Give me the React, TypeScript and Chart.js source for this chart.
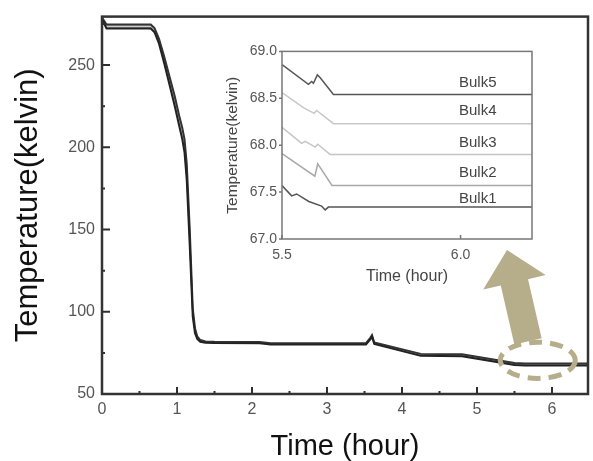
import React, { useEffect, useRef } from 'react';
import { Chart, registerables } from 'chart.js';

Chart.register(...registerables);

const FONT = "'Liberation Sans', Arial, Helvetica, sans-serif";

// ---------- main chart data ----------
const mainTime = [0, 0.06, 0.65, 0.7, 0.76, 0.83, 0.9, 0.97, 1.03, 1.07, 1.1, 1.13, 1.17, 1.21, 1.24, 1.27, 1.31, 1.38, 1.5, 2.1, 2.25, 3.52, 3.58, 3.6, 3.63, 4.25, 4.8, 5.5, 5.64, 6.48];
const mainBulk5 = [279, 274.7, 274.7, 272.5, 266, 255, 243, 231, 219, 212, 205, 190, 150, 102, 90, 85, 82.8, 82, 81.8, 81.6, 80.9, 80.9, 84.3, 85.8, 81.3, 74.4, 74.2, 68.85, 68.54, 68.54];
const mainBulk4 = [278.8, 274.2, 274.2, 272, 265.5, 254.4, 242, 229.8, 217.8, 210.5, 203.5, 188, 148, 101, 89.5, 84.6, 82.6, 81.8, 81.6, 81.4, 80.7, 80.7, 84, 85.5, 81, 74.1, 73.9, 68.56, 68.23, 68.23];
const mainBulk3 = [278.5, 273.5, 273.5, 271.3, 264.7, 253.3, 240.7, 228, 216, 208.5, 201, 185, 145, 99.5, 88.5, 84.2, 82.3, 81.6, 81.4, 81.2, 80.5, 80.5, 83.8, 85.2, 80.8, 73.8, 73.6, 68.2, 67.9, 67.9];
const mainBulk2 = [278.2, 272.8, 272.8, 270.6, 263.8, 252, 239, 226.3, 214.2, 206.5, 198.5, 182, 142, 98, 87.5, 83.8, 82, 81.4, 81.2, 81, 80.3, 80.3, 83.5, 85, 80.6, 73.5, 73.3, 67.9, 67.57, 67.57];
const mainBulk1 = [278, 272.3, 272.3, 270, 263, 251, 238, 225, 213, 205, 197, 180, 140, 97, 87, 83.5, 81.8, 81.2, 81, 80.8, 80.1, 80.1, 83.3, 84.8, 80.4, 73.2, 73, 67.57, 67.34, 67.34];

const mainXTicks = [0, 1, 2, 3, 4, 5, 6];
const mainXMinorTicks = [0.5, 1.5, 2.5, 3.5, 4.5, 5.5];
const mainYTicks = [50, 100, 150, 200, 250];
const mainYMinorTicks = [75, 125, 175, 225, 275];

// ---------- inset data ----------
const insetTime5 = [5.5, 5.574, 5.583, 5.588, 5.599, 5.607, 5.644, 6.2];
const insetBulk5 = [68.86, 68.65, 68.68, 68.66, 68.75, 68.72, 68.54, 68.54];
const insetTime4 = [5.5, 5.56, 5.59, 5.597, 5.644, 6.2];
const insetBulk4 = [68.56, 68.4, 68.34, 68.37, 68.23, 68.23];
const insetTime3 = [5.5, 5.555, 5.565, 5.593, 5.6, 5.635, 6.2];
const insetBulk3 = [68.19, 68.02, 68.04, 67.98, 68.01, 67.9, 67.9];
const insetTime2 = [5.5, 5.592, 5.6, 5.64, 6.2];
const insetBulk2 = [67.91, 67.67, 67.8, 67.57, 67.57];
const insetTime1 = [5.5, 5.527, 5.541, 5.575, 5.611, 5.621, 5.63, 6.2];
const insetBulk1 = [67.57, 67.46, 67.48, 67.4, 67.35, 67.31, 67.34, 67.34];

const insetXTicks = [5.5, 6.0];
const insetYTicks = [67.0, 67.5, 68.0, 68.5, 69.0];
const bulkNames = ['Bulk1', 'Bulk2', 'Bulk3', 'Bulk4', 'Bulk5'];
const bulkLabelY = [67.43, 67.71, 68.02, 68.37, 68.66];
const bulkLabelX = 6.048;

// ---------- highlight (in main-chart data coords) ----------
const ellipseCenter = [5.81, 70.5];
const ellipseRadius = [0.5, 11];
const arrowTip = [5.4, 137.5];
const arrowBase = [5.68, 82];

const pts = (xs: number[], ys: number[]) => xs.map((x, i) => ({ x, y: ys[i] }));

const mainPlugin = {
  id: 'mainDecor',
  afterDatasetsDraw(chart: any) {
    const { ctx, scales } = chart;
    const xs = scales.x, ys = scales.y;
    ctx.save();
    const cx = xs.getPixelForValue(ellipseCenter[0]);
    const cy = ys.getPixelForValue(ellipseCenter[1]);
    const rx = xs.getPixelForValue(ellipseCenter[0] + ellipseRadius[0]) - cx;
    const ry = cy - ys.getPixelForValue(ellipseCenter[1] + ellipseRadius[1]);
    ctx.strokeStyle = '#b6ad8b';
    ctx.lineWidth = 5;
    ctx.setLineDash([13, 8]);
    ctx.beginPath();
    ctx.ellipse(cx, cy, rx, ry, 0, 0, Math.PI * 2);
    ctx.stroke();
    ctx.setLineDash([]);
    const tx = xs.getPixelForValue(arrowTip[0]), ty = ys.getPixelForValue(arrowTip[1]);
    const bx = xs.getPixelForValue(arrowBase[0]), by = ys.getPixelForValue(arrowBase[1]);
    const dx = tx - bx, dy = ty - by;
    const len = Math.hypot(dx, dy);
    const ux = dx / len, uy = dy / len;
    const px = -uy, py = ux;
    const headLen = 33, headHalf = 32, shaftHalf = 14;
    const hx = tx - ux * headLen, hy = ty - uy * headLen;
    ctx.fillStyle = '#b6ad8b';
    ctx.beginPath();
    ctx.moveTo(bx + px * shaftHalf, by + py * shaftHalf);
    ctx.lineTo(hx + px * shaftHalf, hy + py * shaftHalf);
    ctx.lineTo(hx + px * headHalf, hy + py * headHalf);
    ctx.lineTo(tx, ty);
    ctx.lineTo(hx - px * headHalf, hy - py * headHalf);
    ctx.lineTo(hx - px * shaftHalf, hy - py * shaftHalf);
    ctx.lineTo(bx - px * shaftHalf, by - py * shaftHalf);
    ctx.closePath();
    ctx.fill();
    ctx.restore();
  },
  afterDraw(chart: any) {
    const { ctx, chartArea: a, scales } = chart;
    const xs = scales.x, ys = scales.y;
    ctx.save();
    ctx.strokeStyle = '#2f2f2f';
    ctx.lineWidth = 2;
    ctx.beginPath();
    mainXTicks.forEach((v) => {
      const p = xs.getPixelForValue(v);
      ctx.moveTo(p, a.bottom);
      ctx.lineTo(p, a.bottom - 7);
    });
    mainXMinorTicks.forEach((v) => {
      const p = xs.getPixelForValue(v);
      ctx.moveTo(p, a.bottom);
      ctx.lineTo(p, a.bottom - 3);
    });
    mainYTicks.forEach((v) => {
      const p = ys.getPixelForValue(v);
      ctx.moveTo(a.left, p);
      ctx.lineTo(a.left + 8, p);
    });
    mainYMinorTicks.forEach((v) => {
      const p = ys.getPixelForValue(v);
      ctx.moveTo(a.left, p);
      ctx.lineTo(a.left + 3, p);
    });
    ctx.stroke();
    ctx.lineWidth = 2.5;
    ctx.strokeStyle = '#333';
    ctx.strokeRect(a.left, a.top, a.right - a.left, a.bottom - a.top);
    ctx.restore();
  },
};

const insetPlugin = {
  id: 'insetDecor',
  afterDraw(chart: any) {
    const { ctx, chartArea: a, scales } = chart;
    const xs = scales.x, ys = scales.y;
    ctx.save();
    ctx.strokeStyle = '#777';
    ctx.lineWidth = 1.5;
    ctx.strokeRect(a.left, a.top, a.right - a.left, a.bottom - a.top);
    ctx.beginPath();
    insetXTicks.forEach((v) => {
      const p = xs.getPixelForValue(v);
      ctx.moveTo(p, a.bottom);
      ctx.lineTo(p, a.bottom - 4);
    });
    insetYTicks.forEach((v) => {
      const p = ys.getPixelForValue(v);
      ctx.moveTo(a.left, p);
      ctx.lineTo(a.left - 3, p);
    });
    ctx.stroke();
    ctx.fillStyle = '#444';
    ctx.font = `15px ${FONT}`;
    ctx.textAlign = 'center';
    ctx.textBaseline = 'middle';
    bulkNames.forEach((n, i) => {
      ctx.fillText(n, xs.getPixelForValue(bulkLabelX), ys.getPixelForValue(bulkLabelY[i]));
    });
    ctx.restore();
  },
};

const lineDs = (label: string, data: any[], color: string, width: number) => ({
  label,
  data,
  borderColor: color,
  backgroundColor: color,
  borderWidth: width,
  pointRadius: 0,
  fill: false,
  tension: 0,
});

export default function App() {
  const mainRef = useRef<HTMLCanvasElement>(null);
  const insetRef = useRef<HTMLCanvasElement>(null);

  useEffect(() => {
    const main = new Chart(mainRef.current as HTMLCanvasElement, {
      type: 'line',
      data: {
        datasets: [
          lineDs('Bulk1', pts(mainTime, mainBulk1), '#222', 2),
          lineDs('Bulk5', pts(mainTime, mainBulk5), '#333', 2),
          lineDs('Bulk2', pts(mainTime, mainBulk2), '#999', 1.2),
          lineDs('Bulk4', pts(mainTime, mainBulk4), '#aaa', 1.2),
          lineDs('Bulk3', pts(mainTime, mainBulk3), '#d0d0d0', 1.2),
        ] as any,
      },
      options: {
        responsive: false,
        animation: false,
        devicePixelRatio: 1,
        layout: { padding: { top: 12, right: 5, left: 0, bottom: 0 } },
        plugins: { legend: { display: false }, tooltip: { enabled: false } },
        scales: {
          x: {
            type: 'linear',
            min: 0,
            max: 6.48,
            grid: { display: false, drawTicks: false },
            border: { display: false },
            afterBuildTicks: (s: any) => { s.ticks = mainXTicks.map((v) => ({ value: v })); },
            afterFit: (s: any) => { s.height = 67; },
            ticks: { color: '#555', font: { family: FONT, size: 16 }, padding: 6, callback: (v: any) => String(v) },
            title: { display: true, text: 'Time (hour)', color: '#111', font: { family: FONT, size: 29, lineHeight: 1 }, padding: { top: 0, bottom: 0 } },
          },
          y: {
            type: 'linear',
            min: 50,
            max: 279.5,
            grid: { display: false, drawTicks: false },
            border: { display: false },
            afterBuildTicks: (s: any) => { s.ticks = mainYTicks.map((v) => ({ value: v })); },
            afterFit: (s: any) => { s.width = 102; },
            ticks: { color: '#555', font: { family: FONT, size: 16 }, padding: 7, callback: (v: any) => String(v) },
            title: { display: true, text: 'Temperature(kelvin)', color: '#111', font: { family: FONT, size: 31, lineHeight: 1 }, padding: { top: 13, bottom: 0 } },
          },
        },
      } as any,
      plugins: [mainPlugin],
    });

    const inset = new Chart(insetRef.current as HTMLCanvasElement, {
      type: 'line',
      data: {
        datasets: [
          lineDs('Bulk5', pts(insetTime5, insetBulk5), '#555', 1.5),
          lineDs('Bulk1', pts(insetTime1, insetBulk1), '#555', 1.5),
          lineDs('Bulk2', pts(insetTime2, insetBulk2), '#a8a8a8', 1.5),
          lineDs('Bulk3', pts(insetTime3, insetBulk3), '#c4c4c4', 1.5),
          lineDs('Bulk4', pts(insetTime4, insetBulk4), '#c8c8c8', 1.5),
        ] as any,
      },
      options: {
        responsive: false,
        animation: false,
        devicePixelRatio: 1,
        layout: { padding: { top: 10, right: 13, left: 0, bottom: 0 } },
        plugins: { legend: { display: false }, tooltip: { enabled: false } },
        scales: {
          x: {
            type: 'linear',
            min: 5.5,
            max: 6.2,
            grid: { display: false, drawTicks: false },
            border: { display: false },
            afterBuildTicks: (s: any) => { s.ticks = insetXTicks.map((v) => ({ value: v })); },
            afterFit: (s: any) => { s.height = 49; },
            ticks: { color: '#555', font: { family: FONT, size: 14 }, padding: 8, callback: (v: any) => Number(v).toFixed(1) },
            title: { display: true, text: 'Time (hour)', color: '#444', font: { family: FONT, size: 16, lineHeight: 1 }, padding: { top: 0, bottom: 3 } },
          },
          y: {
            type: 'linear',
            min: 67,
            max: 69,
            grid: { display: false, drawTicks: false },
            border: { display: false },
            afterBuildTicks: (s: any) => { s.ticks = insetYTicks.map((v) => ({ value: v })); },
            afterFit: (s: any) => { s.width = 57; },
            ticks: { color: '#555', font: { family: FONT, size: 14 }, padding: 5, callback: (v: any) => Number(v).toFixed(1) },
            title: { display: true, text: 'Temperature(kelvin)', color: '#444', font: { family: FONT, size: 15.5, lineHeight: 1 }, padding: { top: 0, bottom: 0 } },
          },
        },
      } as any,
      plugins: [insetPlugin],
    });

    return () => {
      main.destroy();
      inset.destroy();
    };
  }, []);

  return (
    <div style={{ position: 'fixed', left: 0, top: 0, width: 593, height: 461, background: '#fff' }}>
      <canvas ref={mainRef} width={593} height={461} style={{ position: 'absolute', left: 0, top: 0, width: 593, height: 461 }} />
      <canvas ref={insetRef} width={320} height={250} style={{ position: 'absolute', left: 225, top: 38, width: 320, height: 250 }} />
    </div>
  );
}
